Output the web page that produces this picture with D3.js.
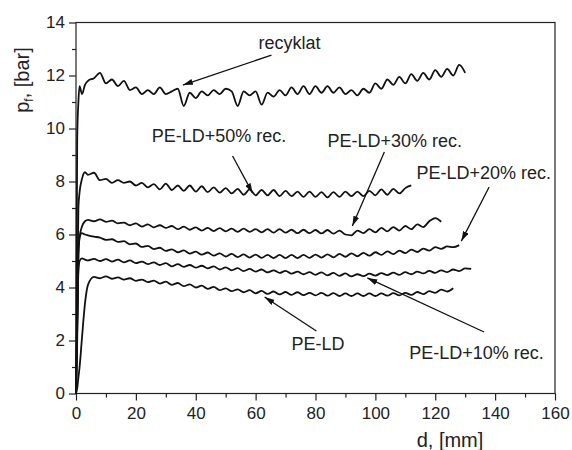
<!DOCTYPE html>
<html>
<head>
<meta charset="utf-8">
<script src="https://cdn.jsdelivr.net/npm/d3@7"></script>
<style>
  body { margin: 0; background: #fff; }
  svg text { font-family: Arial, "Liberation Sans", sans-serif; fill: #222; }
</style>
</head>
<body>
<div id="chart"></div>
<script>
// shared d grid, [mm]
const dGrid = [0, 0.4, 0.8, 1.2, 2, 3, 4, 6, 8, 10, 12, 14, 16, 18, 20, 22, 24, 26, 28, 30,
  32, 34, 36, 38, 40, 42, 44, 46, 48, 50, 52, 54, 56, 58, 60, 62, 64, 66, 68, 70,
  72, 74, 76, 78, 80, 82, 84, 86, 88, 90, 92, 94, 96, 98, 100, 102, 104, 106, 108, 110,
  112, 114, 116, 118, 120, 122, 124, 126, 128, 130, 132];

// p_f values [bar] read along the grid
const recyklat = [0, 9.6, 11.0, 11.6, 11.3, 11.65, 11.8, 11.9, 12.1, 11.7, 11.85, 11.6, 11.8, 11.45, 11.55, 11.3,
  11.45, 11.3, 11.55, 11.3, 11.4, 11.5, 10.85, 11.35, 11.15, 11.4, 11.25, 11.45, 11.3, 11.5, 11.4, 10.85,
  11.4, 11.25, 11.4, 10.9, 11.35, 11.2, 11.45, 11.25, 11.55, 11.3, 11.6, 11.3, 11.6, 11.35, 11.6, 11.35,
  11.55, 11.3, 11.45, 11.25, 11.5, 11.35, 11.7, 11.5, 11.85, 11.65, 11.95, 11.7, 12.05, 11.8, 12.1, 11.85,
  12.2, 11.95, 12.25, 12.0, 12.4, 12.1];
const pe50 = [0, 3.0, 7.0, 7.6, 8.1, 8.35, 8.25, 8.33, 8.05, 8.1, 7.95, 8.05, 7.95, 8.0, 7.85, 7.95,
  7.78, 7.9, 7.7, 7.92, 7.68, 7.85, 7.65, 7.85, 7.62, 7.82, 7.6, 7.78, 7.58, 7.75, 7.55, 7.72,
  7.5, 7.7, 7.48, 7.68, 7.48, 7.68, 7.45, 7.65, 7.45, 7.62, 7.42, 7.62, 7.42, 7.6, 7.4, 7.6,
  7.42, 7.62, 7.45, 7.62, 7.45, 7.65, 7.48, 7.7, 7.5, 7.72, 7.55, 7.75, 7.85];
const pe30 = [0, 2.0, 5.2, 5.9, 6.3, 6.5, 6.55, 6.5, 6.57, 6.48, 6.52, 6.42, 6.45, 6.35, 6.42, 6.3,
  6.38, 6.27, 6.35, 6.25, 6.32, 6.2, 6.3, 6.18, 6.27, 6.15, 6.25, 6.13, 6.24, 6.12, 6.22, 6.1,
  6.22, 6.1, 6.2, 6.08, 6.2, 6.07, 6.2, 6.07, 6.18, 6.05, 6.18, 6.05, 6.17, 6.04, 6.17, 6.03,
  6.15, 6.0, 5.97, 6.15, 6.05, 6.2, 6.08, 6.25, 6.12, 6.28, 6.15, 6.32, 6.2, 6.38, 6.28, 6.5,
  6.62, 6.48];
const pe20 = [0, 2.5, 5.3, 5.9, 6.05, 6.0, 5.97, 5.92, 5.88, 5.8, 5.82, 5.72, 5.75, 5.63, 5.66, 5.53,
  5.57, 5.45, 5.5, 5.38, 5.44, 5.33, 5.4, 5.28, 5.35, 5.24, 5.32, 5.2, 5.29, 5.17, 5.27, 5.15,
  5.25, 5.13, 5.24, 5.12, 5.23, 5.11, 5.23, 5.11, 5.23, 5.11, 5.23, 5.12, 5.24, 5.13, 5.25, 5.14,
  5.27, 5.16, 5.29, 5.18, 5.31, 5.2, 5.33, 5.23, 5.36, 5.26, 5.39, 5.3, 5.43, 5.34, 5.47, 5.39,
  5.52, 5.46, 5.55, 5.52, 5.6];
const pe10 = [0, 2.5, 4.6, 5.0, 5.1, 5.05, 5.02, 5.08, 5.0, 5.07, 4.98, 5.05, 4.95, 5.02, 4.92, 4.98,
  4.88, 4.95, 4.85, 4.92, 4.8, 4.88, 4.78, 4.85, 4.75, 4.82, 4.72, 4.8, 4.68, 4.76, 4.65, 4.73,
  4.62, 4.7, 4.6, 4.68, 4.57, 4.65, 4.55, 4.63, 4.52, 4.6, 4.5, 4.58, 4.48, 4.57, 4.46, 4.55,
  4.44, 4.53, 4.42, 4.5, 4.43, 4.52, 4.45, 4.54, 4.47, 4.56, 4.48, 4.58, 4.5, 4.6, 4.53, 4.63,
  4.55, 4.65, 4.58, 4.68, 4.62, 4.72, 4.7];
const peld = [0, 0.2, 0.6, 1.0, 2.1, 3.4, 4.1, 4.4, 4.35, 4.42, 4.33, 4.38, 4.3, 4.35, 4.25, 4.3,
  4.2, 4.26, 4.15, 4.22, 4.1, 4.17, 4.05, 4.12, 4.0, 4.07, 3.95, 4.02, 3.9, 3.97, 3.86, 3.93,
  3.82, 3.9, 3.78, 3.87, 3.76, 3.85, 3.74, 3.83, 3.72, 3.82, 3.71, 3.8, 3.7, 3.8, 3.69, 3.79,
  3.68, 3.78, 3.68, 3.78, 3.68, 3.78, 3.68, 3.78, 3.69, 3.79, 3.7, 3.8, 3.72, 3.83, 3.75, 3.86,
  3.8, 3.92, 3.85, 3.97];

const seriesList = [recyklat, pe50, pe30, pe20, pe10, peld];

// labels: [text, d, p]
const labels = [
  ["recyklat", 61, 13.0],
  ["PE-LD+50% rec.", 25.3, 9.49],
  ["PE-LD+30% rec.", 84, 9.32],
  ["PE-LD+20% rec.", 113.7, 8.11],
  ["PE-LD+10% rec.", 111.3, 1.3],
  ["PE-LD", 72, 1.64]
];
// arrows: [d0, p0, d1, p1] tail -> head
const arrows = [
  [65.3, 12.77, 35.7, 11.64],
  [52.3, 8.96, 59, 7.56],
  [103, 9.11, 92.3, 6.32],
  [138, 7.79, 128.7, 5.75],
  [136.3, 2.32, 97.3, 4.36],
  [80.3, 2.36, 63, 3.64]
];

const width = 572, height = 450;
const margin = { top: 22.5, right: 17, bottom: 56.5, left: 76 };

const svg = d3.select("#chart").append("svg")
  .attr("width", width)
  .attr("height", height);

const x = d3.scaleLinear().domain([0, 160]).range([margin.left, width - margin.right]);
const y = d3.scaleLinear().domain([0, 14]).range([height - margin.bottom, margin.top]);

// minor ticks
svg.append("g")
  .attr("transform", `translate(0,${y(0)})`)
  .call(d3.axisBottom(x).tickValues(d3.range(10, 160, 20)).tickSize(4).tickFormat(""))
  .call(g => g.select(".domain").remove());
svg.append("g")
  .attr("transform", `translate(${x(0)},0)`)
  .call(d3.axisLeft(y).tickValues(d3.range(1, 14, 2)).tickSize(4).tickFormat(""))
  .call(g => g.select(".domain").remove());

// major ticks
const xAxis = svg.append("g")
  .attr("transform", `translate(0,${y(0)})`)
  .call(d3.axisBottom(x).tickValues(d3.range(0, 161, 20)).tickSize(7).tickPadding(6).tickSizeOuter(0));
const yAxis = svg.append("g")
  .attr("transform", `translate(${x(0)},0)`)
  .call(d3.axisLeft(y).tickValues(d3.range(0, 15, 2)).tickSize(7).tickPadding(4).tickSizeOuter(0));

[xAxis, yAxis].forEach(g => {
  g.selectAll("text").style("font-size", "17px");
  g.select(".domain").remove();
});
svg.selectAll(".tick line").attr("stroke", "#222").attr("stroke-width", 1.2);

// frame
svg.append("rect")
  .attr("x", x(0)).attr("y", y(14))
  .attr("width", x(160) - x(0)).attr("height", y(0) - y(14))
  .attr("fill", "none").attr("stroke", "#222").attr("stroke-width", 1.2);

// curves
const line = d3.line()
  .x((p, i) => x(dGrid[i]))
  .y(p => y(p))
  .curve(d3.curveMonotoneX);

svg.append("g").selectAll("path")
  .data(seriesList)
  .join("path")
  .attr("d", line)
  .attr("fill", "none")
  .attr("stroke", "#111")
  .attr("stroke-width", 1.8)
  .attr("stroke-linejoin", "round");

// arrows
svg.append("defs").append("marker")
  .attr("id", "head")
  .attr("viewBox", "0 0 10 6")
  .attr("refX", 10).attr("refY", 3)
  .attr("markerWidth", 10).attr("markerHeight", 6)
  .attr("markerUnits", "userSpaceOnUse")
  .attr("orient", "auto")
  .append("path").attr("d", "M0,0L10,3L0,6Z").attr("fill", "#111");

svg.append("g").selectAll("line")
  .data(arrows)
  .join("line")
  .attr("x1", a => x(a[0])).attr("y1", a => y(a[1]))
  .attr("x2", a => x(a[2])).attr("y2", a => y(a[3]))
  .attr("stroke", "#111").attr("stroke-width", 1.3)
  .attr("marker-end", "url(#head)");

svg.append("g").selectAll("text")
  .data(labels)
  .join("text")
  .attr("x", l => x(l[1])).attr("y", l => y(l[2]))
  .style("font-size", "18px")
  .text(l => l[0]);

// axis titles
svg.append("text")
  .attr("x", 450).attr("y", 447)
  .attr("text-anchor", "middle")
  .style("font-size", "20px")
  .text("d, [mm]");

const yTitle = svg.append("text")
  .attr("transform", "translate(29,80) rotate(-90)")
  .attr("text-anchor", "middle")
  .style("font-size", "20px");
yTitle.append("tspan").text("p");
yTitle.append("tspan").attr("dy", 4).style("font-size", "12px").text("f");
yTitle.append("tspan").attr("dy", -4).text(", [bar]");
</script>
</body>
</html>
